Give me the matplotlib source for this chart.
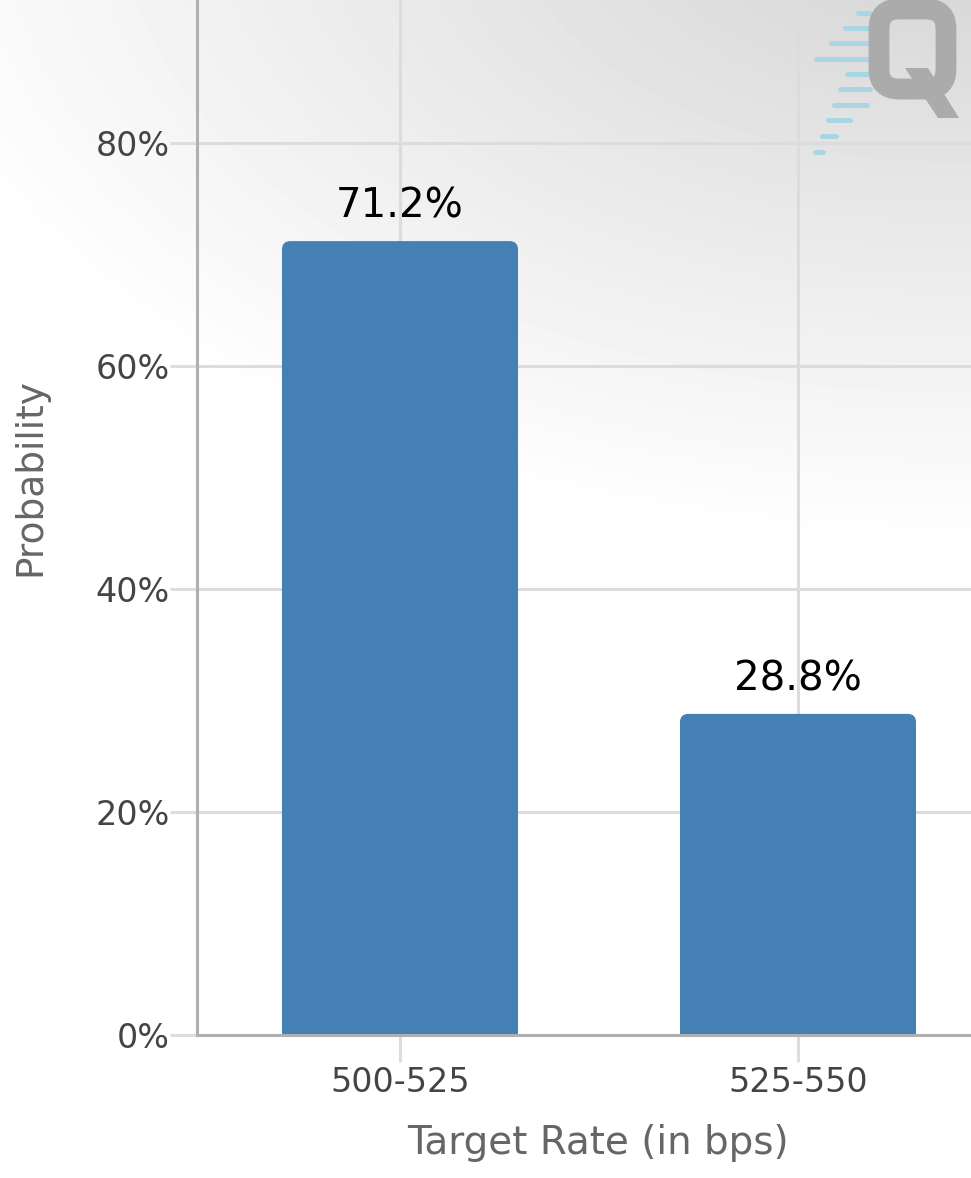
import matplotlib.pyplot as plt
import numpy as np
from matplotlib.patches import FancyBboxPatch, Polygon
from matplotlib.lines import Line2D
from matplotlib.transforms import Affine2D

categories = ['500-525', '525-550']
probabilities = [71.2, 28.8]
bar_labels = ['71.2%', '28.8%']
yticks = [0, 20, 40, 60, 80]
ytick_labels = ['0%', '20%', '40%', '60%', '80%']

W, H = 971, 1178
fig = plt.figure(figsize=(W / 100, H / 100), dpi=100)

# soft grey elliptical background, darkest at the top right
bg = fig.add_axes([0, 0, 1, 1], zorder=-1)
yy, xx = np.mgrid[0:H, 0:W]
d = np.hypot((xx - 950) / 1100, (yy + 100) / 650)
shade = 255 - 45 * np.clip(1 - d, 0, 1)
bg.imshow(shade, cmap='gray', vmin=0, vmax=255, aspect='auto', interpolation='bilinear')
bg.axis('off')

# pixel (y down) -> display transform for the watermark
px = Affine2D().scale(1, -1).translate(0, H)

# watermark stripes
stripes = [(13, 858, 870), (28, 845, 870), (43, 831, 870), (59, 816, 870),
           (74, 847, 870), (89, 840, 870), (105, 834, 867), (120, 828, 850),
           (136, 822, 836), (152, 815, 823)]
for y, x0, x1 in stripes:
    fig.add_artist(Line2D([x0, x1], [y, y], transform=px, color='#a9d6e5',
                          lw=3.6, solid_capstyle='round', zorder=0))
ring = FancyBboxPatch((879, 9), 67, 80, boxstyle='round,pad=0,rounding_size=20',
                      transform=px, facecolor='none', edgecolor='#ababab', lw=15, zorder=0.5)
fig.add_artist(ring)
fig.add_artist(Polygon([(905, 68), (928, 68), (959, 118), (938, 118)], closed=True,
                       transform=px, facecolor='#ababab', edgecolor='none', zorder=0.5))

# axes run past the top and right edge of the picture
ax = fig.add_axes([197 / W, (H - 1035) / H, 801 / W, 1115 / H])
ax.patch.set_visible(False)

x = np.arange(len(categories))
bars = ax.bar(x, probabilities, width=0.593, color='#4480b3')
# swap to rounded-top bars (bottom corners hidden below the axis)
for b in bars:
    x0, w, h = b.get_x(), b.get_width(), b.get_height()
    b.remove()
    rb = FancyBboxPatch((x0, -3), w, h + 3, boxstyle='round,pad=0,rounding_size=0.021',
                        mutation_aspect=398 / 11.15, facecolor='#4480b3', edgecolor='none', zorder=2)
    ax.add_patch(rb)

for xi, v, lab in zip(x, probabilities, bar_labels):
    ax.annotate(lab, (xi, v), xytext=(0, 17), textcoords='offset points',
                ha='center', va='baseline', fontsize=29, color='black')

ax.set_xlim(-0.51, 1.5025)
ax.set_ylim(0, 100)
ax.set_xticks(x)
ax.set_xticklabels(categories)
ax.set_yticks(yticks)
ax.set_yticklabels(ytick_labels)
ax.tick_params(axis='both', labelsize=24, labelcolor='#444444', color='#dddddd',
               width=2.2, length=19.5)
ax.tick_params(axis='y', pad=0)
ax.tick_params(axis='x', pad=3)

ax.grid(True, color='#dcdcdc', linewidth=2.2)
ax.set_axisbelow(True)

for s in ['top', 'right']:
    ax.spines[s].set_visible(False)
for s in ['left', 'bottom']:
    ax.spines[s].set_color('#b0b0b0')
    ax.spines[s].set_linewidth(2.2)
    ax.spines[s].set_zorder(3)

ax.set_xlabel('Target Rate (in bps)', fontsize=28, color='#666666', labelpad=18)
ax.set_ylabel('Probability', fontsize=27, color='#666666', labelpad=34)

fig.savefig('out.png', dpi=100)
